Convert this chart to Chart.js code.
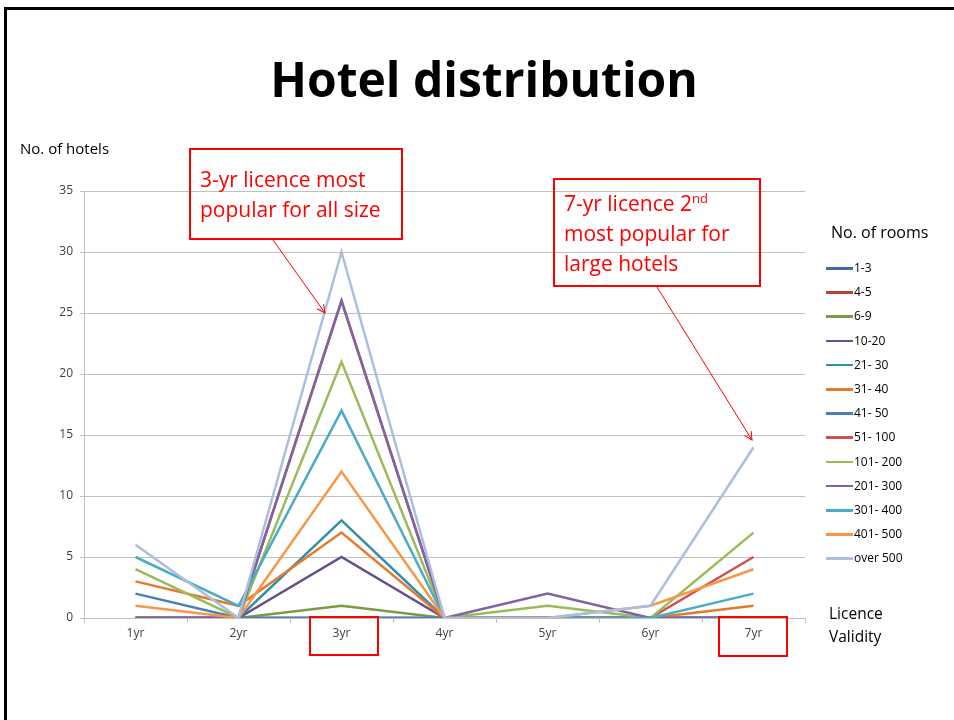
<!DOCTYPE html>
<html>
<head>
<meta charset="utf-8">
<script src="https://cdn.jsdelivr.net/npm/chart.js@4.4.0/dist/chart.umd.min.js"></script>
<style>
  body { margin: 0; background: #fff; font-family: "Open Sans", sans-serif; }
  #wrap { position: relative; width: 954px; height: 720px; overflow: hidden; background: #fff; }
  #chart { position: absolute; left: 0; top: 0; }
  .frameTop { position: absolute; left: 4px; top: 7px; width: 950px; height: 3px; background: #000; }
  .frameLeft { position: absolute; left: 4px; top: 7px; width: 3px; height: 713px; background: #000; }
  .title { position: absolute; left: 0; width: 968px; top: 46px; text-align: center; font-weight: bold; font-size: 48px; color: #000; }
  .ytitle { position: absolute; left: 20px; top: 138px; font-size: 15px; color: #000; }
  .xtitle { position: absolute; left: 829px; top: 602px; font-size: 15.5px; line-height: 23px; color: #000; }
  .note { position: absolute; border: 2px solid #f00; color: #f00; font-size: 21px; line-height: 30px; box-sizing: border-box; padding: 0 0 0 9px; white-space: nowrap; }
  .note sup { font-size: 13px; line-height: 0; }
  .redbox { position: absolute; border: 2px solid #f00; box-sizing: border-box; }
  #legend { position: absolute; left: 826px; top: 0; }
  .legTitle { position: absolute; left: 831px; top: 221px; font-size: 16px; color: #000; white-space: nowrap; }
  .legItem { position: absolute; left: 0; height: 14px; white-space: nowrap; font-size: 12px; color: #000; }
  .legItem span.ln { position: absolute; left: 0; top: 6px; width: 27px; height: 2.5px; }
  .legItem span.tx { position: absolute; left: 28px; top: -2px; }
  svg { position: absolute; left: 0; top: 0; }
</style>
</head>
<body>
<div id="wrap">
  <canvas id="chart" width="954" height="720"></canvas>
  <div class="frameTop"></div>
  <div class="frameLeft"></div>
  <div class="title">Hotel distribution</div>
  <div class="ytitle">No. of hotels</div>
  <div class="xtitle">Licence<br>Validity</div>
  <div class="legTitle">No. of rooms</div>
  <div id="legend"></div>
  <div class="note" style="left:189px;top:148px;width:214px;height:92px;padding-top:14px;">3-yr licence most<br>popular for all size</div>
  <div class="note" style="left:553px;top:178px;width:208px;height:109px;padding-top:8px;">7-yr licence 2<sup>nd</sup><br>most popular for<br>large hotels</div>
  <div class="redbox" style="left:309px;top:616px;width:70px;height:40px;"></div>
  <div class="redbox" style="left:718px;top:616px;width:70px;height:41px;"></div>
  <svg width="954" height="720">
    <defs>
      <marker id="ah" markerWidth="10" markerHeight="10" refX="9" refY="5" orient="auto" markerUnits="userSpaceOnUse">
        <path d="M1,1 L9,5 L1,9" fill="none" stroke="#f00" stroke-width="1"/>
      </marker>
    </defs>
    <line x1="273" y1="240" x2="325" y2="313" stroke="#f00" stroke-width="1" marker-end="url(#ah)"/>
    <line x1="657" y1="287" x2="752" y2="440" stroke="#f00" stroke-width="1" marker-end="url(#ah)"/>
  </svg>
</div>
<script>
const validity = ["1yr", "2yr", "3yr", "4yr", "5yr", "6yr", "7yr"];
const roomBands = ["1-3", "4-5", "6-9", "10-20", "21- 30", "31- 40", "41- 50",
  "51- 100", "101- 200", "201- 300", "301- 400", "401- 500", "over 500"];
const bandColors = ["#3E6AA6", "#B5413E", "#7A9A44", "#674E8C", "#2F8FA8", "#E07B30",
  "#4A7EBB", "#D0504D", "#9BBB59", "#8064A2", "#4BACC6", "#F79646", "#AABEDF"];

// hotels per licence validity, one list per room band
const rooms1to3 = [0, 0, 0, 0, 0, 0, 0];
const rooms4to5 = [0, 0, 0, 0, 0, 0, 0];
const rooms6to9 = [0, 0, 1, 0, 0, 0, 0];
const rooms10to20 = [0, 0, 5, 0, 0, 0, 0];
const rooms21to30 = [0, 0, 8, 0, 0, 0, 0];
const rooms31to40 = [3, 1, 7, 0, 0, 0, 1];
const rooms41to50 = [2, 0, 0, 0, 0, 0, 0];
const rooms51to100 = [0, 0, 26, 0, 0, 0, 5];
const rooms101to200 = [4, 0, 21, 0, 1, 0, 7];
const rooms201to300 = [0, 0, 26, 0, 2, 0, 0];
const rooms301to400 = [5, 1, 17, 0, 0, 0, 2];
const rooms401to500 = [1, 0, 12, 0, 0, 1, 4];
const roomsOver500 = [6, 0, 30, 0, 0, 1, 14];

const seriesValues = [rooms1to3, rooms4to5, rooms6to9, rooms10to20, rooms21to30, rooms31to40,
  rooms41to50, rooms51to100, rooms101to200, rooms201to300, rooms301to400, rooms401to500, roomsOver500];

const yTicks = [0, 5, 10, 15, 20, 25, 30, 35];

const datasets = roomBands.map((band, i) => ({
  label: band,
  data: seriesValues[i],
  borderColor: bandColors[i],
  backgroundColor: bandColors[i],
  borderWidth: 2.5,
  pointRadius: 0,
  tension: 0,
  // later series on top, like the spreadsheet
  order: roomBands.length - i,
}));

// legend as text
const legend = document.getElementById('legend');
roomBands.forEach((band, i) => {
  const item = document.createElement('div');
  item.className = 'legItem';
  item.style.top = (261 + i * 24.2) + 'px';
  item.innerHTML = `<span class="ln" style="background:${bandColors[i]}"></span><span class="tx">${band}</span>`;
  legend.appendChild(item);
});

new Chart(document.getElementById('chart'), {
  type: 'line',
  data: { labels: validity, datasets: datasets },
  options: {
    responsive: false,
    animation: false,
    layout: { padding: { left: 0, top: 191, right: 149, bottom: 0 } },
    plugins: {
      legend: { display: false },
      title: { display: false },
      tooltip: { enabled: false },
    },
    scales: {
      x: {
        offset: true,
        grid: { offset: true, drawOnChartArea: false, tickLength: 5, color: '#BFBFBF' },
        border: { color: '#BFBFBF' },
        ticks: { color: '#404040', font: { family: 'Open Sans', size: 12 }, padding: 3 },
        afterFit: (scale) => { scale.height = 102; },
      },
      y: {
        min: 0,
        max: 35,
        afterBuildTicks: (scale) => { scale.ticks = yTicks.map(v => ({ value: v })); },
        grid: { color: '#C0C0C0', tickLength: 4 },
        border: { color: '#BFBFBF' },
        ticks: { color: '#404040', font: { family: 'Open Sans', size: 12 }, padding: 7 },
        afterFit: (scale) => { scale.width = 84; },
      },
    },
  },
});
</script>
</body>
</html>
